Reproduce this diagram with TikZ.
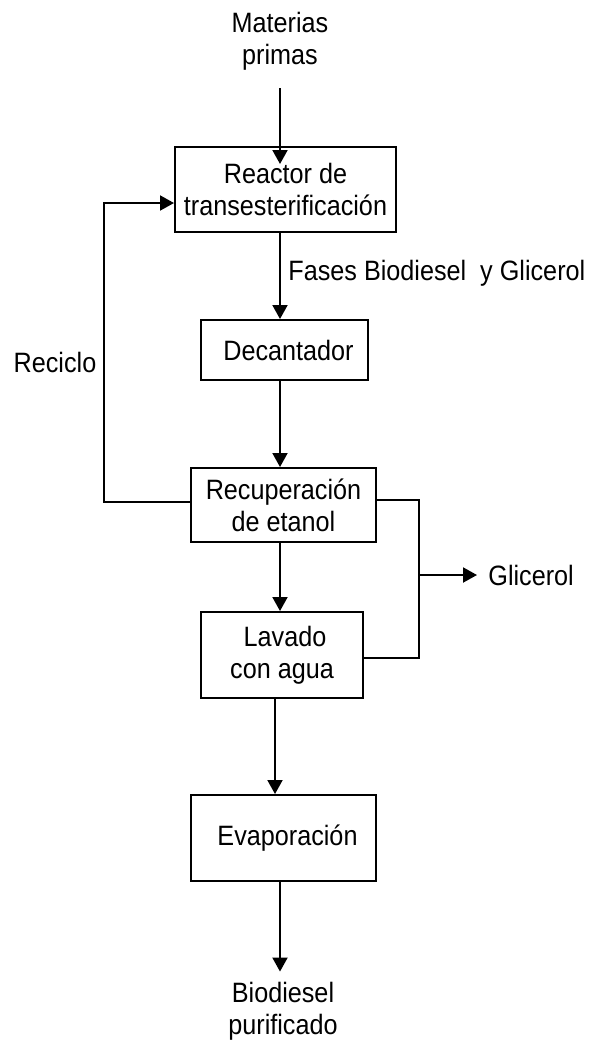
\documentclass[tikz,border=0pt]{standalone}
\usepackage{fontspec}
\setmainfont[FakeStretch=0.9]{Liberation Sans}
\usetikzlibrary{arrows.meta}
\begin{document}
\begin{tikzpicture}[x=0.5pt,y=-0.5pt,
  box/.style={draw,line width=1pt,inner sep=0pt,align=center,font=\fontsize{14}{16}\selectfont},
  lbl/.style={inner sep=0pt,align=center,font=\fontsize{14}{16}\selectfont},
  arr/.style={line width=1pt,-{Triangle[length=7pt,width=7.5pt]}},
  ln/.style={line width=1pt}]
\fill[white] (0,0) rectangle (598,1040);
\useasboundingbox (0,0) rectangle (598,1040);

\node[box,minimum width=110.5pt,minimum height=42.5pt] (reac) at (285.5,189.5) {Reactor de\\transesterificación};
\node[box,minimum width=83.5pt,minimum height=30pt] (dec) at (284.5,350) {\hspace{4pt}Decantador};
\node[box,minimum width=92.5pt,minimum height=37pt] (rec) at (283.5,505) {Recuperación\\de etanol};
\node[box,minimum width=81pt,minimum height=43pt] (lav) at (282,655) {\hspace{3pt}Lavado\\con agua};
\node[box,minimum width=92.5pt,minimum height=43pt] (eva) at (283.5,838) {\hspace{4pt}Evaporación};

\node[lbl] (mat) at (280,41) {Materias\\primas};
\node[lbl] (bio) at (283,1011) {Biodiesel\\purificado};
\node[lbl,anchor=west] (fases) at (288,273) {Fases Biodiesel~~y Glicerol};
\node[lbl] (recl) at (55,362) {Reciclo};
\node[lbl,anchor=west] (gli) at (488,575) {Glicerol};

\coordinate (j) at (418,575);

\draw[arr] ([yshift=-9pt]mat.south) -- ([yshift=-9pt]mat.south |- reac.north);
\draw[arr] (reac.south -| mat) -- (dec.north -| mat);
\draw[arr] (dec.south -| mat) -- (rec.north -| mat);
\draw[arr] (rec.south -| mat) -- (lav.north -| mat);
\draw[arr] ([xshift=-3.5pt]lav.south) -- ([xshift=-3.5pt]lav.south |- eva.north);
\draw[arr] (eva.south -| mat) -- ([yshift=5pt]bio.north -| mat);

\draw[arr] ([yshift=1.5pt]rec.west) -- ++(-86,0) |- ([yshift=-6.75pt]reac.west);
\draw[ln] ([yshift=2.5pt]rec.east) -- ++(42,0) |- ([yshift=-1.5pt]lav.east);
\draw[arr] (j) -- ([xshift=-5.5pt]gli.west);
\end{tikzpicture}
\end{document}
